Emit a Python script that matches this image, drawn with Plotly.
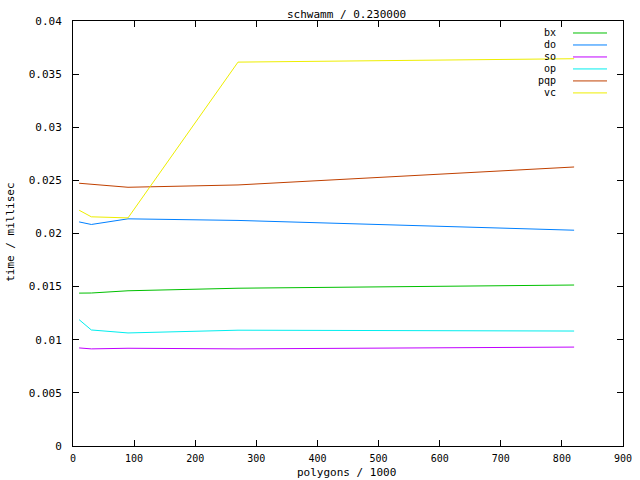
import plotly.graph_objects as go

# data
polygons = [10, 30, 90, 270, 820]
series_names = ["bx", "do", "so", "op", "pqp", "vc"]
bx = [0.01439, 0.01440, 0.01461, 0.01485, 0.01515]
do = [0.02109, 0.02085, 0.02138, 0.02123, 0.02031]
so = [0.00923, 0.00914, 0.00920, 0.00914, 0.00931]
op = [0.01189, 0.01092, 0.01064, 0.01090, 0.01082]
pqp = [0.02473, 0.02462, 0.02435, 0.02457, 0.02626]
vc = [0.02219, 0.02157, 0.02147, 0.03613, 0.03645]
x_ticks = [0, 100, 200, 300, 400, 500, 600, 700, 800, 900]
y_ticks = [0, 0.005, 0.01, 0.015, 0.02, 0.025, 0.03, 0.035, 0.04]
y_tick_text = ["0", "0.005", "0.01", "0.015", "0.02", "0.025", "0.03", "0.035", "0.04"]

colors = ["#00c000", "#0080ff", "#c000ff", "#00eeee", "#c04000", "#eeee00"]
values = [bx, do, so, op, pqp, vc]

FONT = "DejaVu Sans Mono"
L, R, T, B = 73, 623, 21, 446.5
PW, PH = R - L, B - T

fig = go.Figure()
for name, vals, col in zip(series_names, values, colors):
    fig.add_trace(go.Scatter(x=polygons, y=vals, mode="lines", name=name,
                             line=dict(color=col, width=1), showlegend=False))

# manual gnuplot-style legend (text, then sample line on right)
for i, (name, col) in enumerate(zip(series_names, colors)):
    yy = 1 - (12 + 12 * i) / PH
    fig.add_annotation(xref="paper", yref="paper", x=(558 - L) / PW, y=yy,
                       text=name, showarrow=False, xanchor="right", yanchor="middle",
                       font=dict(family=FONT, size=10, color="black"))
    fig.add_shape(type="line", xref="paper", yref="paper",
                  x0=(573 - L) / PW, x1=(607 - L) / PW, y0=yy, y1=yy,
                  line=dict(color=col, width=1))

# title
fig.add_annotation(xref="paper", yref="paper", x=(346 - L) / PW, y=1 + (T - 14) / PH,
                   text="schwamm / 0.230000", showarrow=False,
                   xanchor="center", yanchor="middle",
                   font=dict(family=FONT, size=11, color="black"))
# axis titles
fig.add_annotation(xref="paper", yref="paper", x=(346 - L) / PW, y=-(473 - B) / PH,
                   text="polygons / 1000", showarrow=False,
                   xanchor="center", yanchor="middle",
                   font=dict(family=FONT, size=11, color="black"))
fig.add_annotation(xref="paper", yref="paper", x=-(L - 11) / PW, y=(B - 233) / PH,
                   text="time / millisec", showarrow=False, textangle=-90,
                   xanchor="center", yanchor="middle",
                   font=dict(family=FONT, size=11, color="black"))

fig.update_layout(
    width=640, height=480,
    margin=dict(l=L, r=640 - R, t=T, b=480 - B),
    paper_bgcolor="white", plot_bgcolor="white",
    font=dict(family=FONT, size=11, color="black"),
    xaxis=dict(range=[0, 900], tickvals=x_ticks, ticks="inside", ticklen=6,
               showline=True, linecolor="black", linewidth=1, mirror="ticks",
               showgrid=False, zeroline=False, tickcolor="black",
               tickfont=dict(family=FONT, size=10),
               ticklabelstandoff=3, automargin=False),
    yaxis=dict(range=[0, 0.04], tickvals=y_ticks, ticktext=y_tick_text,
               ticks="inside", ticklen=6,
               showline=True, linecolor="black", linewidth=1, mirror="ticks",
               showgrid=False, zeroline=False, tickcolor="black",
               ticklabelstandoff=8, automargin=False),
)

fig.write_html("out.html", config={"displayModeBar": False},
               post_script="document.body.style.margin='0';document.body.style.overflow='hidden';")
